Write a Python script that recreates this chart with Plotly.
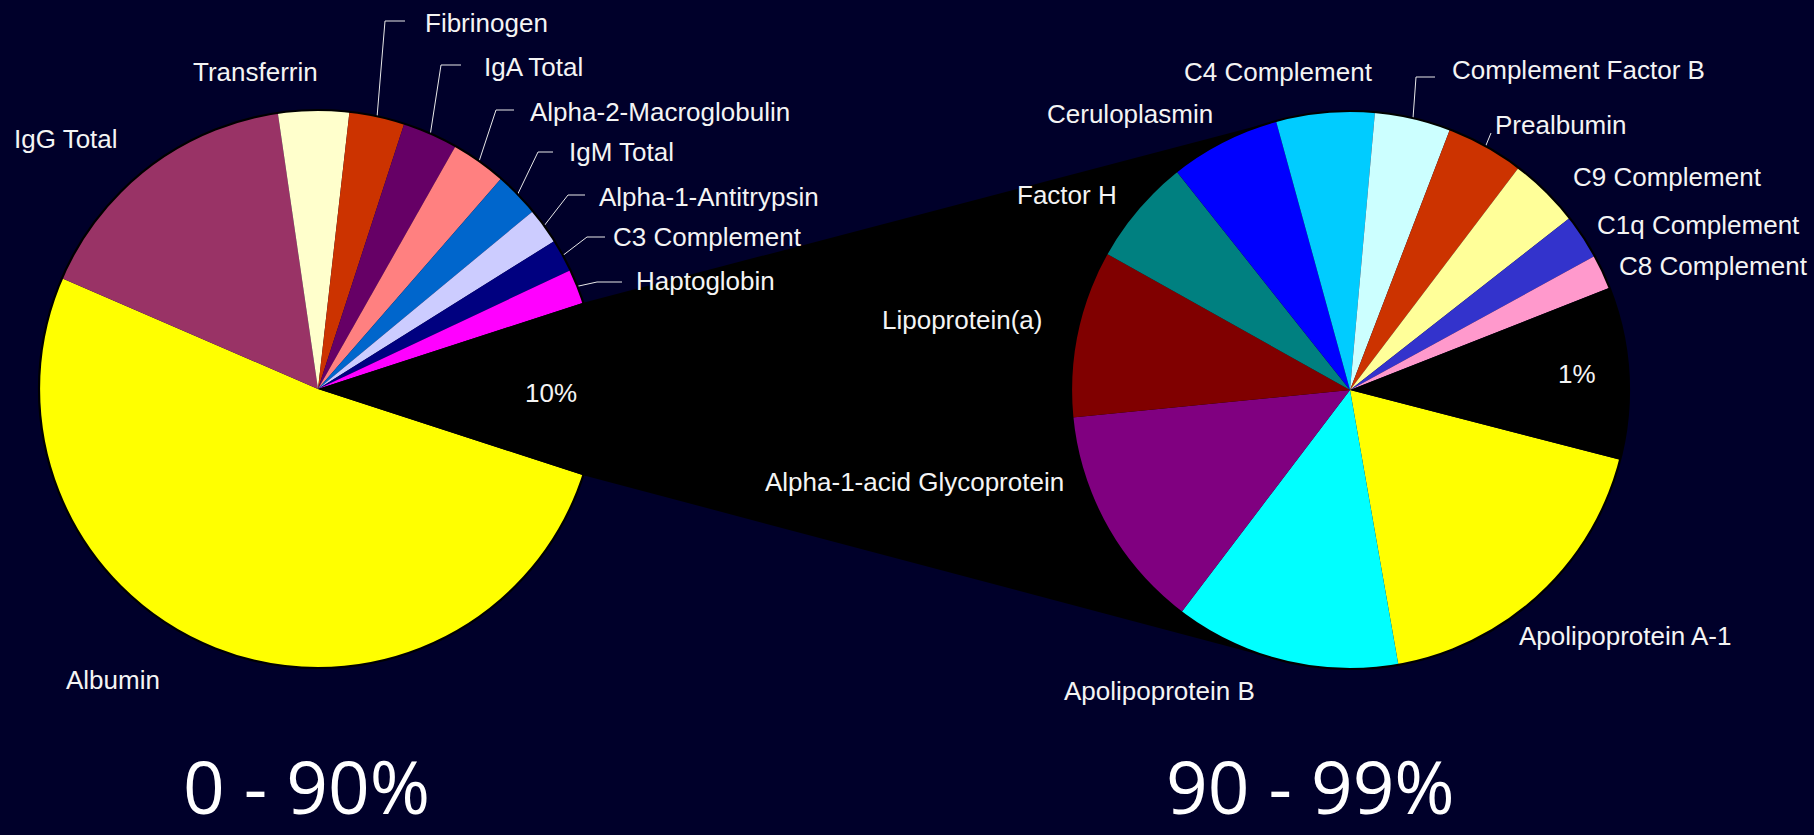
import math
import plotly.graph_objects as go

W, H = 1814, 835
BG = "#00002A"

# ---- data -------------------------------------------------------------
# Share of total plasma protein mass (%), most abundant proteins (0 - 90 %)
left_labels = ["Albumin", "IgG Total", "Transferrin", "Fibrinogen", "IgA Total",
               "Alpha-2-Macroglobulin", "IgM Total", "Alpha-1-Antitrypsin",
               "C3 Complement", "Haptoglobin"]
left_values = [51.5, 16.2, 4.1, 3.2, 3.2, 3.2, 2.6, 2.1, 1.9, 2.0]
left_rest = 10.0          # everything else, expanded in the second pie

# Next tier of proteins (90 - 99 %), same units
right_labels = ["Apolipoprotein A-1", "Apolipoprotein B", "Alpha-1-acid Glycoprotein",
                "Lipoprotein(a)", "Factor H", "Ceruloplasmin", "C4 Complement",
                "Complement Factor B", "Prealbumin", "C9 Complement",
                "C1q Complement", "C8 Complement"]
right_values = [1.82, 1.31, 1.31, 0.97, 0.62, 0.64, 0.57, 0.44, 0.45, 0.41, 0.26, 0.20]
right_rest = 1.0          # remaining low-abundance proteins

range_titles = ["0 - 90%", "90 - 99%"]

# ---- styling ----------------------------------------------------------
left_colors = ["#FFFF00", "#993366", "#FFFFCC", "#CC3300", "#660066", "#FF8080",
               "#0066CC", "#CCCCFF", "#000080", "#FF00FF"]
right_colors = ["#FFFF00", "#00FFFF", "#800080", "#800000", "#008080", "#0000FF",
                "#00CCFF", "#CCFFFF", "#CC3300", "#FFFF99", "#3333CC", "#FF99CC"]
REST_COLOR = "#000000"
TEXT_COLOR = "#F4F4F4"
LABEL_FONT = dict(family="Liberation Sans, Arial, sans-serif", size=26, color=TEXT_COLOR)
TITLE_FONT = dict(family="Open Sans, sans-serif", size=73, color="#FFFFFF")

# geometry in pixel units (x right, y down)
R = 279
CENTERS = [(318, 389), (1350, 390)]
ROTATIONS = [108, 104.5]   # clockwise from 12 o'clock where the first slice starts

# label placement: (x, y, xanchor, leader points or None)
left_place = {
    "Albumin": (64, 680, "left", None),
    "IgG Total": (12, 139, "left", None),
    "Transferrin": (191, 72, "left", None),
    "Fibrinogen": (423, 23, "left", [(385, 21), (405, 21)]),
    "IgA Total": (482, 67, "left", [(441, 65), (461, 65)]),
    "Alpha-2-Macroglobulin": (528, 112, "left", [(496, 110), (514, 110)]),
    "IgM Total": (567, 152, "left", [(538, 152), (553, 152)]),
    "Alpha-1-Antitrypsin": (597, 197, "left", [(568, 195), (585, 195)]),
    "C3 Complement": (611, 237, "left", [(587, 237), (605, 237)]),
    "Haptoglobin": (634, 281, "left", [(597, 282), (622, 282)]),
}
right_place = {
    "Apolipoprotein A-1": (1517, 636, "left", None),
    "Apolipoprotein B": (1062, 691, "left", None),
    "Alpha-1-acid Glycoprotein": (1066, 482, "right", None),
    "Lipoprotein(a)": (1044, 320, "right", None),
    "Factor H": (1015, 195, "left", None),
    "Ceruloplasmin": (1045, 114, "left", None),
    "C4 Complement": (1182, 72, "left", None),
    "Complement Factor B": (1450, 70, "left", [(1416, 77), (1435, 77)]),
    "Prealbumin": (1493, 125, "left", [(1491, 133)]),
    "C9 Complement": (1571, 177, "left", None),
    "C1q Complement": (1595, 225, "left", None),
    "C8 Complement": (1617, 266, "left", None),
}
rest_label_pos = [(551, 393), (1577, 374)]
title_pos = [(306, 785), (1310, 785)]


def domain_for(c):
    cx, cy = c
    return dict(x=[(cx - R) / W, (cx + R) / W],
                y=[(H - cy - R) / H, (H - cy + R) / H])


def slice_angle(values, rot, i, frac):
    total = sum(values)
    cum = sum(values[:i]) + frac * values[i]
    return rot + 360.0 * cum / total


def rim_point(c, theta_cw):
    t = math.radians(theta_cw)
    return (c[0] + R * math.sin(t), c[1] - R * math.cos(t))


def tangent_point(p, c, upper):
    dx, dy = c[0] - p[0], c[1] - p[1]
    d = math.hypot(dx, dy)
    phi = math.atan2(dy, dx)
    a = math.asin(R / d)
    length = math.sqrt(d * d - R * R)
    ang = phi - a if upper else phi + a
    return (p[0] + length * math.cos(ang), p[1] + length * math.sin(ang))


fig = go.Figure()

left_all = left_values + [left_rest]
right_all = right_values + [right_rest]

# black wedge joining the "rest" slice of the first pie to the second pie
lc, rc = CENTERS
p_top = rim_point(lc, slice_angle(left_all, ROTATIONS[0], len(left_values), 0.0))
p_bot = rim_point(lc, slice_angle(left_all, ROTATIONS[0], len(left_values), 1.0))
t_top = tangent_point(p_top, rc, True)
t_bot = tangent_point(p_bot, rc, False)
poly = [lc, p_top, t_top, rc, t_bot, p_bot, lc]
fig.add_trace(go.Scatter(
    x=[p[0] for p in poly], y=[p[1] for p in poly],
    mode="lines", fill="toself", fillcolor=REST_COLOR,
    line=dict(width=0, color=REST_COLOR), hoverinfo="skip", showlegend=False))

pies = [
    (left_labels, left_values, left_rest, left_colors, f"{left_rest:g}%"),
    (right_labels, right_values, right_rest, right_colors, f"{right_rest:g}%"),
]
for k, (labels, values, rest, colors, rest_text) in enumerate(pies):
    fig.add_trace(go.Pie(
        labels=labels + [rest_text], values=values + [rest],
        marker=dict(colors=colors + [REST_COLOR], line=dict(width=0)),
        sort=False, direction="clockwise", rotation=ROTATIONS[k],
        textinfo="none", hoverinfo="label+value", showlegend=False,
        domain=domain_for(CENTERS[k])))

annotations = []
shapes = []
for k, (labels, values, rest, colors, rest_text) in enumerate(pies):
    c = CENTERS[k]
    place = left_place if k == 0 else right_place
    allv = values + [rest]
    for i, name in enumerate(labels):
        x, y, anchor, leader = place[name]
        annotations.append(dict(x=x, y=y, xref="x", yref="y", text=name,
                                showarrow=False, xanchor=anchor, yanchor="middle",
                                font=LABEL_FONT))
        if leader:
            start = rim_point(c, slice_angle(allv, ROTATIONS[k], i, 0.5))
            pts = [start] + leader
            path = "M " + " L ".join(f"{px:.1f},{py:.1f}" for px, py in pts)
            shapes.append(dict(type="path", path=path, xref="x", yref="y",
                               line=dict(color="#E8E8E8", width=1)))
    rx, ry = rest_label_pos[k]
    annotations.append(dict(x=rx, y=ry, xref="x", yref="y", text=rest_text,
                            showarrow=False, xanchor="center", yanchor="middle",
                            font=LABEL_FONT))
    tx, ty = title_pos[k]
    annotations.append(dict(x=tx, y=ty, xref="x", yref="y", text=range_titles[k],
                            showarrow=False, xanchor="center", yanchor="middle",
                            font=TITLE_FONT))
    # thin dark rim around each pie
    shapes.append(dict(type="circle", xref="x", yref="y",
                       x0=c[0] - R, x1=c[0] + R, y0=c[1] - R, y1=c[1] + R,
                       line=dict(color="#000000", width=2.2)))

fig.update_layout(
    width=W, height=H,
    margin=dict(l=0, r=0, t=0, b=0),
    paper_bgcolor=BG, plot_bgcolor=BG,
    xaxis=dict(range=[0, W], visible=False, fixedrange=True, domain=[0, 1]),
    yaxis=dict(range=[H, 0], visible=False, fixedrange=True, domain=[0, 1]),
    annotations=annotations, shapes=shapes,
)

fig.write_html("out.html", include_plotlyjs=True, config={"displayModeBar": False})
